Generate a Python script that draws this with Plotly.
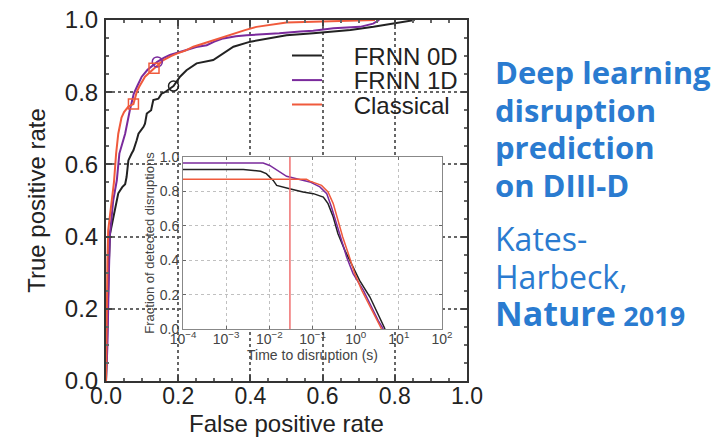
import plotly.graph_objects as go

# ---- ROC data (main panel) ----
fpr_0d = [0, 0.002, 0.004, 0.008, 0.011, 0.02, 0.025, 0.034, 0.045, 0.053, 0.057, 0.062, 0.071, 0.076, 0.085,
          0.09, 0.104, 0.108, 0.113, 0.125, 0.131, 0.145, 0.154, 0.163, 0.187, 0.205, 0.223, 0.251, 0.297, 0.325,
          0.353, 0.4, 0.445, 0.5, 0.574, 0.677, 0.741, 0.797, 0.843, 0.855]
tpr_0d = [0, 0.1, 0.222, 0.33, 0.407, 0.45, 0.48, 0.52, 0.537, 0.545, 0.565, 0.611, 0.63, 0.639, 0.667,
          0.685, 0.704, 0.713, 0.741, 0.75, 0.778, 0.782, 0.796, 0.8, 0.817, 0.843, 0.861, 0.88, 0.889, 0.907,
          0.926, 0.94, 0.949, 0.958, 0.963, 0.972, 0.981, 0.99, 0.998, 1.0]

fpr_1d = [0, 0.004, 0.008, 0.011, 0.02, 0.03, 0.037, 0.045, 0.053, 0.066, 0.077, 0.088, 0.099, 0.115, 0.13,
          0.142, 0.16, 0.177, 0.2, 0.223, 0.25, 0.279, 0.3, 0.325, 0.36, 0.39, 0.43, 0.48, 0.538, 0.574,
          0.63, 0.704, 0.74, 0.757]
tpr_1d = [0, 0.1, 0.3, 0.407, 0.5, 0.556, 0.63, 0.66, 0.685, 0.75, 0.796, 0.82, 0.843, 0.862, 0.875,
          0.884, 0.895, 0.903, 0.91, 0.917, 0.925, 0.93, 0.94, 0.949, 0.955, 0.958, 0.96, 0.963, 0.968, 0.97,
          0.977, 0.981, 0.99, 1.0]

fpr_cl = [0, 0.001, 0.002, 0.004, 0.006, 0.012, 0.016, 0.022, 0.028, 0.034, 0.043, 0.05, 0.062, 0.076, 0.085,
          0.092, 0.108, 0.122, 0.133, 0.145, 0.159, 0.18, 0.196, 0.22, 0.242, 0.27, 0.297, 0.33, 0.353, 0.385,
          0.417, 0.46, 0.5, 0.574, 0.65, 0.72, 0.745]
tpr_cl = [0, 0.12, 0.22, 0.33, 0.417, 0.47, 0.5, 0.55, 0.63, 0.685, 0.73, 0.745, 0.76, 0.767, 0.8,
          0.815, 0.843, 0.855, 0.866, 0.875, 0.889, 0.9, 0.907, 0.915, 0.926, 0.935, 0.944, 0.955, 0.963, 0.972,
          0.981, 0.988, 0.993, 0.995, 0.997, 0.998, 1.0]

# operating-point markers
op_0d = ([0.187], [0.817])
op_1d = ([0.142], [0.884])
op_cl = ([0.076, 0.133], [0.767, 0.866])

# ---- Inset data: fraction of detected disruptions vs time to disruption ----
t_0d = [1e-4, 0.0025, 0.0063, 0.0085, 0.0123, 0.0148, 0.0295, 0.0603, 0.105, 0.178, 0.229, 0.302, 0.389,
        0.562, 0.871, 1.23, 2.14, 3.31, 4.79]
f_0d = [0.928, 0.928, 0.917, 0.903, 0.864, 0.835, 0.816, 0.797, 0.787, 0.767, 0.729, 0.651, 0.554,
        0.457, 0.36, 0.283, 0.186, 0.089, 0.0]

t_1d = [1e-4, 0.0072, 0.0102, 0.0158, 0.0251, 0.0427, 0.0871, 0.148, 0.214, 0.275, 0.363, 0.468, 0.617,
        0.871, 1.51, 2.34, 3.31, 4.37]
f_1d = [0.965, 0.965, 0.951, 0.922, 0.888, 0.874, 0.855, 0.826, 0.787, 0.709, 0.612, 0.516, 0.419,
        0.322, 0.225, 0.128, 0.05, 0.0]

t_cl = [1e-4, 0.0724, 0.0871, 0.1, 0.162, 0.229, 0.302, 0.389, 0.501, 0.676, 0.955, 1.38, 2.14, 3.09, 3.98]
f_cl = [0.87, 0.87, 0.86, 0.855, 0.835, 0.797, 0.729, 0.632, 0.535, 0.438, 0.322, 0.225, 0.128, 0.05, 0.0]

t_warn = 0.03  # vertical marker (s)

inset_tickvals = [1e-4, 1e-3, 1e-2, 1e-1, 1e0, 1e1, 1e2]
inset_ticktext = ["10<sup>−4</sup>", "10<sup>−3</sup>", "10<sup>−2</sup>", "10<sup>−1</sup>",
                  "10<sup>0</sup>", "10<sup>1</sup>", "10<sup>2</sup>"]

names = ["FRNN 0D", "FRNN 1D", "Classical"]
colors = ["#222222", "#7a2a9c", "#f05a3c"]

FONT = "Liberation Sans, Arial, Helvetica, sans-serif"
BLUE = "#2a7bd0"
NB = "\u00a0" * 4

# geometry: plot area x 106..467, y 20..381 in a 718x441 page
W, H = 718, 441
L, R, T, B = 106, 467, 20, 381
pw, ph = R - L, B - T


def px(x):
    return (x - L) / pw


def py(y):
    return (B - y) / ph


fig = go.Figure()

rocs = [(fpr_0d, tpr_0d), (fpr_1d, tpr_1d), (fpr_cl, tpr_cl)]
legend_ids = ["legend", "legend2", "legend3"]
for (x, y), n, c, lg in zip(rocs, names, colors, legend_ids):
    fig.add_trace(go.Scatter(x=x, y=y, mode="lines", name=NB + n, legend=lg, line=dict(color=c, width=2),
                             xaxis="x", yaxis="y"))

for (x, y), c, sym in zip([op_0d, op_1d, op_cl], colors, ["circle-open", "circle-open", "square-open"]):
    fig.add_trace(go.Scatter(x=x, y=y, mode="markers", showlegend=False,
                             marker=dict(symbol=sym, size=10, color=c, line=dict(width=1.5, color=c)),
                             xaxis="x", yaxis="y"))

insets = [(t_0d, f_0d), (t_1d, f_1d), (t_cl, f_cl)]
for (x, y), c in zip(insets, colors):
    fig.add_trace(go.Scatter(x=x, y=y, mode="lines", showlegend=False, line=dict(color=c, width=1.5),
                             xaxis="x2", yaxis="y2"))

fig.add_trace(go.Scatter(x=[t_warn, t_warn], y=[0, 1], mode="lines", showlegend=False,
                         line=dict(color="#f07070", width=1.5), xaxis="x2", yaxis="y2"))

main_axis = dict(range=[0, 1], dtick=0.2, tickformat=".1f", ticks="inside", ticklen=6, tickwidth=1.5,
                 tickcolor="#444", mirror="allticks", showline=True, linewidth=2, linecolor="#333",
                 showgrid=True, gridcolor="#666666", griddash="dot", gridwidth=1.5, zeroline=False,
                 automargin=False,
                 minor=dict(ticks="inside", dtick=0.05, ticklen=3, tickcolor="#666"))

inset_axis_common = dict(ticks="inside", ticklen=3, tickcolor="#666", mirror="allticks", showline=True,
                         linewidth=1, linecolor="#888", showgrid=True, gridcolor="#c0c0c0", griddash="dot",
                         zeroline=False, automargin=False, tickfont=dict(size=14, color="#444", family=FONT))


def leg(ycenter):
    return dict(x=px(287), y=py(ycenter), xanchor="left", yanchor="middle", bgcolor="rgba(0,0,0,0)",
                font=dict(size=24, family=FONT, color="#222"), itemwidth=30)


fig.update_layout(
    width=W, height=H,
    margin=dict(l=L, r=W - R, t=T, b=H - B, autoexpand=False),
    paper_bgcolor="white", plot_bgcolor="white",
    font=dict(family=FONT, color="#222"),
    xaxis=dict(**main_axis, domain=[0, 1], anchor="y", ticklabelstandoff=-7,
               tickfont=dict(size=23, color="#222", family=FONT),
               title=dict(text="False positive rate", font=dict(size=24, family=FONT, color="#222"), standoff=8)),
    yaxis=dict(**main_axis, domain=[0, 1], anchor="x", ticklabelstandoff=1,
               tickfont=dict(size=24, color="#222", family=FONT),
               title=dict(text="True positive rate", font=dict(size=24, family=FONT, color="#222"), standoff=12)),
    xaxis2=dict(**inset_axis_common, type="log", range=[-4, 2], domain=[px(183), px(442)], anchor="y2",
                tickvals=inset_tickvals, ticktext=inset_ticktext, ticklabelstandoff=-3,
                title=dict(text="Time to disruption (s)", font=dict(size=14, family=FONT, color="#444"), standoff=2)),
    yaxis2=dict(**inset_axis_common, range=[0, 1], dtick=0.2, tickformat=".1f", domain=[py(329), py(157)],
                anchor="x2",
                title=dict(text="Fraction of detected disruptions", font=dict(size=13, family=FONT, color="#444"),
                           standoff=2)),
    legend=leg(56),
    legend2=leg(80.5),
    legend3=leg(105),
    showlegend=True,
)

S = "<span style='font-size:{}px'>{}</span>"
block1 = "<br>".join(S.format(31, "<b>" + t + "</b>") for t in ["Deep learning", "disruption", "prediction", "on DIII-D"])
block2 = "<br>".join([S.format(32, "Kates-"), S.format(32, "Harbeck,"),
                      S.format(34, "<b>Nature</b>") + " " + S.format(27, "<b>2019</b>")])

for txt, ycen in [(block1, 128.5), (block2, 276)]:
    fig.add_annotation(text=txt, xref="paper", yref="paper", x=px(493), y=py(ycen),
                       xanchor="left", yanchor="middle", align="left", showarrow=False,
                       font=dict(size=29, color=BLUE, family="Open Sans, sans-serif"))

fig.write_html("out.html")
